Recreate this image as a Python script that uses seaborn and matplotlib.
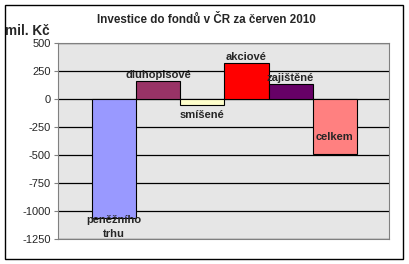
import matplotlib
matplotlib.use("Agg")
import matplotlib.pyplot as plt
import seaborn as sns
import pandas as pd
from matplotlib.patches import Rectangle

categories = ["peněžního\ntrhu", "dluhopisové", "smíšené", "akciové", "zajištěné", "celkem"]
values = [-1060, 160, -55, 320, 135, -490]
colors = ["#9999FF", "#993366", "#FFFFCC", "#FF0000", "#660066", "#FF8080"]
yticks = [500, 250, 0, -250, -500, -750, -1000, -1250]

sns.set_style("white")
plt.rcParams['font.family'] = ['Liberation Sans', 'DejaVu Sans']

fig = plt.figure(figsize=(4.09, 2.64), dpi=100)
fig.patch.set_facecolor("white")
fig.add_artist(Rectangle((5/409, 1-259/264), 398/409, 254/264, transform=fig.transFigure,
                         fill=False, edgecolor="black", linewidth=1))

ax = fig.add_axes([58/409, 1-239/264, 331/409, 196/264])
ax.set_facecolor("#e6e6e6")

df = pd.DataFrame({"cat": categories, "val": values})
sns.barplot(data=df, x="cat", y="val", hue="cat", palette=colors, width=1.0, saturation=1,
            edgecolor="black", linewidth=0.8, legend=False, ax=ax, zorder=3)

ax.set_xlim(-1.27, 6.23)
ax.set_ylim(-1250, 500)
ax.set_yticks(yticks)
ax.set_yticklabels([str(t) for t in yticks], fontsize=8)
ax.set_xticks([])
ax.set_xlabel("")
ax.set_ylabel("")
for t in yticks:
    ax.axhline(t, color="black", linewidth=0.9, zorder=1)
for s in ["top", "right", "bottom", "left"]:
    ax.spines[s].set_color("#808080")
ax.tick_params(axis="y", length=3, width=0.8, color="#808080", pad=2, left=True)

for i, (c, v) in enumerate(zip(categories, values)):
    if i == 0:
        ax.text(i, v + 20, c, ha="center", va="top", fontsize=8, fontweight="bold", zorder=5, linespacing=1.45)
    elif i == 5:
        ax.text(i, v + 150, c, ha="center", va="center", fontsize=8, fontweight="bold", zorder=5)
    elif v >= 0:
        ax.text(i, v + 12, c, ha="center", va="bottom", fontsize=8, fontweight="bold", zorder=5)
    else:
        ax.text(i, v - 45, c, ha="center", va="top", fontsize=8, fontweight="bold", zorder=5)

fig.text(206/409, 1-20/264, "Investice do fondů v ČR za červen 2010", ha="center", va="center",
         fontsize=8.4, fontweight="bold")
fig.text(5/409, 1-31/264, "mil. Kč", ha="left", va="center", fontsize=9.8, fontweight="bold")

fig.savefig("out.png", dpi=100)
